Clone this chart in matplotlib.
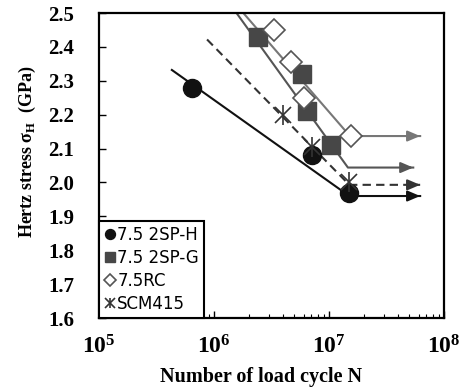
import numpy as np
import matplotlib
matplotlib.use('Agg')
import matplotlib.pyplot as plt
from matplotlib.legend_handler import HandlerTuple

plt.rcParams['mathtext.fontset'] = 'custom'
plt.rcParams['mathtext.rm'] = 'Liberation Serif:bold'
plt.rcParams['mathtext.bf'] = 'Liberation Serif:bold'

# measured points (load cycles, Hertz stress GPa)
h_n = [6.4e5, 7.1e6, 1.5e7]
h_s = [2.28, 2.08, 1.97]
g_n = [2.4e6, 5.8e6, 6.4e6, 1.05e7]
g_s = [2.43, 2.32, 2.21, 2.11]
rc_n = [3.3e6, 4.7e6, 6.1e6, 1.55e7]
rc_s = [2.45, 2.356, 2.25, 2.138]
scm_n = [3.95e6, 7.1e6, 1.5e7]
scm_s = [2.20, 2.105, 2.0]

# S-N fit lines: start, knee, run-out arrow tip
h_fit_n = [4.3e5, 1.5e7, 6.2e7]
h_fit_s = [2.332, 1.96, 1.96]
g_fit_n = [1.57e6, 1.46e7, 5.4e7]
g_fit_s = [2.5, 2.044, 2.044]
rc_fit_n = [1.8e6, 1.52e7, 6.2e7]
rc_fit_s = [2.5, 2.137, 2.137]
scm_fit_n = [8.7e5, 1.5e7, 6.2e7]
scm_fit_s = [2.422, 1.993, 1.993]

labels = ['7.5 2SP-H', '7.5 2SP-G', '7.5RC', 'SCM415']
xticks = [1e5, 1e6, 1e7, 1e8]
xticklabels = [r'$\mathbf{10^{5}}$', r'$\mathbf{10^{6}}$', r'$\mathbf{10^{7}}$', r'$\mathbf{10^{8}}$']
yticks = np.arange(1.6, 2.51, 0.1)

fig = plt.figure(figsize=(4.65, 3.88), dpi=100)
ax = fig.add_axes([0.2129, 0.1804, 0.742, 0.786])
ax.set_xscale('log')


def fit_line(n, s, color, ls):
    ax.plot(n, s, color=color, lw=1.5, ls=ls, zorder=2)
    tip = n[-1]
    ax.annotate('', xy=(tip, s[-1]), xytext=(tip / 1.25, s[-1]),
                arrowprops=dict(arrowstyle='-|>,head_length=0.75,head_width=0.32',
                                color=color, lw=1.5, shrinkA=0, shrinkB=0),
                zorder=2)


fit_line(h_fit_n, h_fit_s, '#111111', '-')
fit_line(g_fit_n, g_fit_s, '#555555', '-')
fit_line(rc_fit_n, rc_fit_s, '#777777', '-')
fit_line(scm_fit_n, scm_fit_s, '#333333', (0, (4, 2.5)))

ph, = ax.plot(h_n, h_s, 'o', ms=13, color='#111111', mec='#111111', ls='none', zorder=4)
pg, = ax.plot(g_n, g_s, 's', ms=13, color='#474747', mec='#474747', ls='none', zorder=3)
prc, = ax.plot(rc_n, rc_s, 'D', ms=11, mfc='white', mec='#555555', mew=1.2, ls='none', zorder=3)
px1, = ax.plot(scm_n, scm_s, 'x', ms=12, color='#333333', mew=1.2, ls='none', zorder=5)
px2, = ax.plot(scm_n, scm_s, '|', ms=14, color='#333333', mew=1.2, ls='none', zorder=5)

ax.set_xlim(1e5, 1e8)
ax.set_ylim(1.6, 2.5)
ax.set_xticks(xticks)
ax.set_xticklabels(xticklabels)
ax.set_yticks(yticks)
ax.set_yticklabels(['%.1f' % v for v in yticks])
ax.tick_params(which='both', direction='in', top=False, right=False)
ax.tick_params(which='major', length=5, width=1)
ax.tick_params(which='minor', length=3, width=0.8)
ax.tick_params(axis='x', labelsize=17, pad=12)
ax.tick_params(axis='y', pad=18)
for lab in ax.get_yticklabels():
    lab.set_fontfamily('Liberation Serif')
    lab.set_fontweight('bold')
    lab.set_fontsize(15)
for sp in ax.spines.values():
    sp.set_linewidth(1.6)

ax.set_xlabel('Number of load cycle N', fontfamily='Liberation Serif',
              fontweight='bold', fontsize=14.5)
ax.xaxis.set_label_coords(0.47, -0.16)
ax.xaxis.label.set_va('top')
ax.set_ylabel('Hertz stress σ$_{\\mathrm{H}}$  (GPa)', fontfamily='Liberation Serif',
              fontweight='bold', fontsize=13)
ax.yaxis.set_label_coords(-0.176, 0.544)

leg = ax.legend([ph, pg, prc, (px1, px2)], labels, loc='lower left',
                borderaxespad=0, fancybox=False, framealpha=1, edgecolor='black',
                fontsize=12, markerscale=0.55, handlelength=0.7,
                handletextpad=0.1, borderpad=0.3, labelspacing=0.3,
                handler_map={tuple: HandlerTuple(ndivide=1, pad=0)})
leg.get_frame().set_linewidth(1.5)

fig.savefig('out.png', dpi=100)
